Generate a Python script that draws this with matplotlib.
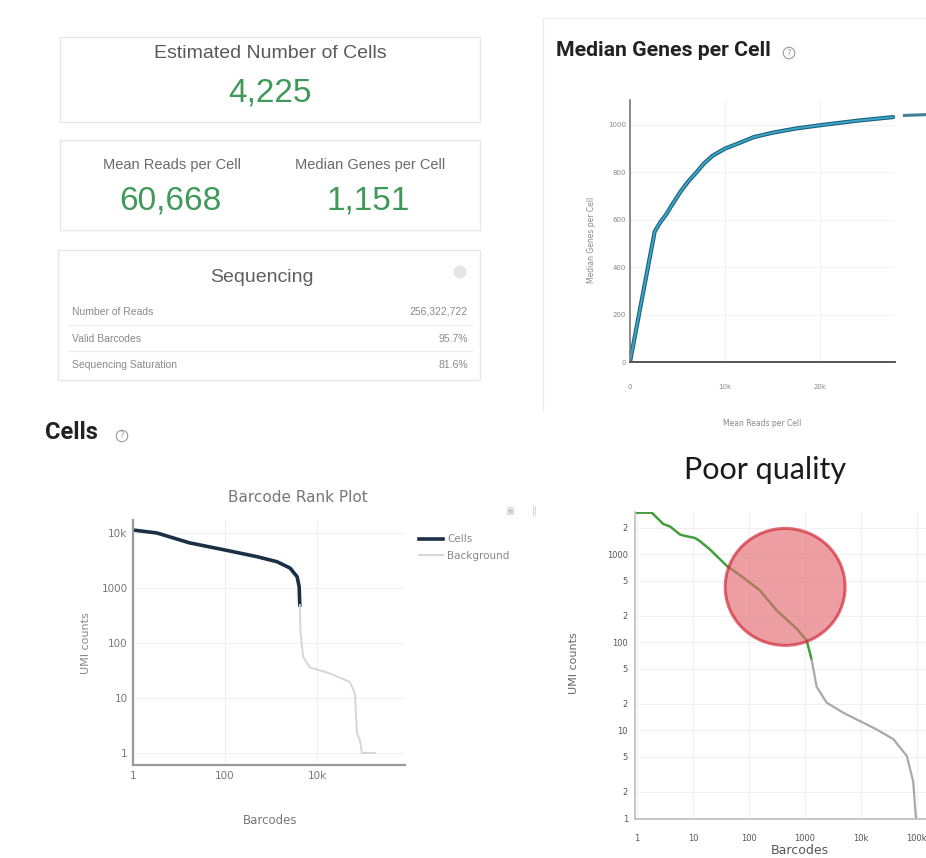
import matplotlib
matplotlib.use('Agg')
import matplotlib.pyplot as plt
from matplotlib.patches import Rectangle, Ellipse

W, H = 926, 858

# ---- summary cards ----
est_cells = '4,225'
mean_reads = '60,668'
median_genes = '1,151'
seq_labels = ['Number of Reads', 'Valid Barcodes', 'Sequencing Saturation']
seq_values = ['256,322,722', '95.7%', '81.6%']

# ---- sequencing saturation (median genes vs mean reads) ----
sat_reads = [0, 2600, 3200, 3860, 4300, 5300, 6100, 7000, 7800, 8700, 10000,
             11600, 13000, 15000, 17500, 20300, 24000, 27700]
sat_genes = [0, 550, 590, 625, 655, 717, 760, 800, 838, 870, 900,
             925, 948, 967, 985, 1000, 1018, 1033]
sat_ext_reads = [28900, 33000]
sat_ext_genes = [1040, 1046]
sat_yticks = [0, 200, 400, 600, 800, 1000]
sat_xticks = [0, 10000, 20000]
sat_xticklabels = ['0', '10k', '20k']

# ---- barcode rank plot (good sample) ----
cells_rank = [1, 3.3, 17, 100, 500, 1350, 2600, 3700, 4100, 4225]
cells_umi = [11300, 10000, 6600, 4900, 3700, 3000, 2300, 1600, 1050, 490]
bg_rank = [4225, 4400, 5000, 7000, 19000, 52000, 67000, 74000, 86000, 95000, 180000]
bg_umi = [490, 150, 56, 36, 28, 19.5, 12, 2.3, 1.7, 1, 1]
rank_yticks = [1, 10, 100, 1000, 10000]
rank_yticklabels = ['1', '10', '100', '1000', '10k']
rank_xticks = [1, 100, 10000]
rank_xticklabels = ['1', '100', '10k']

# ---- barcode rank plot (poor quality) ----
poor_cells_rank = [1, 1.83, 2.95, 3.9, 5.9, 7.7, 10.9, 13.3, 20, 40, 79, 158, 310, 710, 1070, 1320]
poor_cells_umi = [2950, 2950, 2190, 2050, 1660, 1590, 1520, 1400, 1130, 735, 540, 385, 230, 142, 105, 63]
poor_bg_rank = [1320, 1620, 2450, 4800, 19000, 38000, 66000, 86000, 96000]
poor_bg_umi = [63, 31, 20.5, 15.8, 10.2, 7.9, 5.1, 2.6, 1]
poor_yticks = [1, 2, 5, 10, 20, 50, 100, 200, 500, 1000, 2000]
poor_yticklabels = ['1', '2', '5', '10', '2', '5', '100', '2', '5', '1000', '2']
poor_xticks = [1, 10, 100, 1000, 10000, 100000]
poor_xticklabels = ['1', '10', '100', '1000', '10k', '100k']


def fx(px):
    return px / W


def fy(py):
    return 1 - py / H


def box(fig, x0, y0, x1, y1, color='#e8e8e8'):
    fig.add_artist(Rectangle((fx(x0), fy(y1)), fx(x1) - fx(x0), fy(y0) - fy(y1),
                             transform=fig.transFigure, fill=False, ec=color, lw=1.0))


def axes_px(fig, x0, y0, x1, y1):
    return fig.add_axes([fx(x0), fy(y1), fx(x1) - fx(x0), fy(y0) - fy(y1)])


def help_icon(fig, x, y, size=6):
    fig.text(fx(x), fy(y), '?', fontsize=size, color='#9a9a9a', ha='center', va='center',
             bbox=dict(boxstyle='circle,pad=0.15', fc='none', ec='#9a9a9a', lw=0.8))


def main():
    fig = plt.figure(figsize=(W / 100, H / 100), dpi=100)
    fig.patch.set_facecolor('white')

    card_font = 'Liberation Sans'
    green = '#3f9a5a'

    # =========== summary cards (top left) ===========
    box(fig, 60, 37, 480, 122)
    fig.text(fx(270), fy(54), 'Estimated Number of Cells', family=card_font, fontsize=14,
             color='#5a5a5a', ha='center', va='center')
    fig.text(fx(270), fy(93), est_cells, family=card_font, fontsize=24,
             color=green, ha='center', va='center')

    box(fig, 60, 140, 480, 230)
    fig.text(fx(172), fy(165), 'Mean Reads per Cell', family=card_font, fontsize=10.5,
             color='#6a6a6a', ha='center', va='center')
    fig.text(fx(170), fy(201), mean_reads, family=card_font, fontsize=24,
             color=green, ha='center', va='center')
    fig.text(fx(370), fy(165), 'Median Genes per Cell', family=card_font, fontsize=10.5,
             color='#6a6a6a', ha='center', va='center')
    fig.text(fx(368), fy(201), median_genes, family=card_font, fontsize=24,
             color=green, ha='center', va='center')

    box(fig, 58, 250, 480, 380)
    fig.text(fx(262), fy(277), 'Sequencing', family=card_font, fontsize=14,
             color='#606060', ha='center', va='center')
    fig.add_artist(Ellipse((fx(460), fy(272)), 13 / W, 13 / H, transform=fig.transFigure,
                           fc='#e4e4e4', ec='none'))
    row_y = [312, 339, 365]
    for lab, val, ry in zip(seq_labels, seq_values, row_y):
        fig.text(fx(72), fy(ry), lab, family=card_font, fontsize=7.5,
                 color='#8a8a8a', ha='left', va='center')
        fig.text(fx(468), fy(ry), val, family=card_font, fontsize=7.5,
                 color='#8a8a8a', ha='right', va='center')
    for ly in [325, 351]:
        fig.add_artist(plt.Line2D([fx(68), fx(472)], [fy(ly), fy(ly)],
                                  transform=fig.transFigure, color='#ececec', lw=1))

    # =========== median genes per cell (top right) ===========
    fig.add_artist(plt.Line2D([fx(543), fx(926)], [fy(18), fy(18)],
                              transform=fig.transFigure, color='#ececec', lw=1))
    fig.add_artist(plt.Line2D([fx(543), fx(543)], [fy(18), fy(410)],
                              transform=fig.transFigure, color='#ececec', lw=1))
    fig.text(fx(556), fy(50), 'Median Genes per Cell', family='Roboto', fontweight='bold',
             fontsize=15.3, color='#222222', ha='left', va='center')
    help_icon(fig, 789, 53)

    ax1 = axes_px(fig, 630, 100, 895, 362)
    ax1.plot(sat_reads, sat_genes, color='#1f5f7a', lw=3.0, solid_capstyle='round')
    ax1.plot(sat_reads, sat_genes, color='#3aa6c8', lw=1.4, solid_capstyle='round')
    ax1.plot(sat_ext_reads, sat_ext_genes, color='#3f7f99', lw=2.2, clip_on=False)
    ax1.set_xlim(0, 27900)
    ax1.set_ylim(0, 1105)
    ax1.set_xticks(sat_xticks)
    ax1.set_xticklabels(sat_xticklabels)
    ax1.set_yticks(sat_yticks)
    ax1.set_yticklabels([str(v) for v in sat_yticks])
    ax1.tick_params(length=0, labelsize=5, colors='#888888')
    ax1.tick_params(axis='x', pad=16)
    ax1.tick_params(axis='y', pad=3)
    ax1.grid(color='#f2f2f2', lw=0.8)
    for s in ['top', 'right']:
        ax1.spines[s].set_visible(False)
    ax1.spines['left'].set_color('#777777')
    ax1.spines['bottom'].set_color('#555555')
    ax1.spines['left'].set_linewidth(1.2)
    ax1.spines['bottom'].set_linewidth(1.4)
    fig.text(fx(592), fy(240), 'Median Genes per Cell', fontsize=5.5, color='#888888',
             rotation=90, ha='center', va='center')
    fig.text(fx(762), fy(423), 'Mean Reads per Cell', fontsize=5.5, color='#888888',
             ha='center', va='center')

    # =========== barcode rank plot (bottom left) ===========
    fig.text(fx(45), fy(432), 'Cells', family='Roboto', fontweight='bold',
             fontsize=17, color='#222222', ha='left', va='center')
    help_icon(fig, 122, 436)
    fig.text(fx(298), fy(497), 'Barcode Rank Plot', fontsize=11, color='#777777',
             ha='center', va='center')

    ax2 = axes_px(fig, 133, 520, 405, 765)
    ax2.set_xscale('log')
    ax2.set_yscale('log')
    ax2.plot(cells_rank, cells_umi, color='#1b2f45', lw=2.6, label='Cells')
    ax2.plot(bg_rank, bg_umi, color='#d6d6d6', lw=1.4, label='Background')
    ax2.set_xlim(1, 8.2e5)
    ax2.set_ylim(0.605, 17200)
    ax2.set_xticks(rank_xticks)
    ax2.set_xticklabels(rank_xticklabels)
    ax2.set_yticks(rank_yticks)
    ax2.set_yticklabels(rank_yticklabels)
    ax2.minorticks_off()
    ax2.tick_params(length=0, labelsize=7.5, colors='#777777', pad=4)
    ax2.grid(color='#f1f1f1', lw=0.8)
    for s in ['top', 'right']:
        ax2.spines[s].set_visible(False)
    for s in ['left', 'bottom']:
        ax2.spines[s].set_color('#999999')
        ax2.spines[s].set_linewidth(1.6)
    ax2.legend(loc='upper left', bbox_to_anchor=(fx(410), fy(525)),
               bbox_transform=fig.transFigure, frameon=False, fontsize=7.5,
               labelcolor='#888888', handlelength=2.3, handletextpad=0.4,
               labelspacing=0.6)
    fig.text(fx(86), fy(643), 'UMI counts', fontsize=8, color='#888888',
             rotation=90, ha='center', va='center')
    fig.text(fx(270), fy(820), 'Barcodes', fontsize=8.5, color='#777777',
             ha='center', va='center')
    fig.text(fx(510), fy(511), '\u25a3', fontsize=7, color='#cccccc', ha='center', va='center')
    fig.text(fx(534), fy(511), '\u2016', fontsize=7, color='#cccccc', ha='center', va='center')

    # =========== poor quality (bottom right) ===========
    fig.text(fx(765), fy(470), 'Poor quality', family='Lato', fontsize=22,
             color='#1a1a1a', ha='center', va='center')

    ax3 = axes_px(fig, 635, 512, 960, 819)
    ax3.set_xscale('log')
    ax3.set_yscale('log')
    ax3.plot(poor_cells_rank, poor_cells_umi, color='#3f9f3a', lw=1.8)
    ax3.plot(poor_bg_rank, poor_bg_umi, color='#a9a9a9', lw=1.6)
    ax3.set_xlim(0.92, 10 ** 5.77)
    ax3.set_ylim(0.98, 3000)
    ax3.set_xticks(poor_xticks)
    ax3.set_xticklabels(poor_xticklabels)
    ax3.set_yticks(poor_yticks)
    ax3.set_yticklabels(poor_yticklabels)
    ax3.minorticks_off()
    ax3.tick_params(length=0, labelsize=6, colors='#555555')
    ax3.tick_params(axis='x', pad=11)
    ax3.tick_params(axis='y', pad=5)
    ax3.grid(color='#f0f0f0', lw=0.8)
    for s in ['top', 'right']:
        ax3.spines[s].set_visible(False)
    for s in ['left', 'bottom']:
        ax3.spines[s].set_color('#bdbdbd')
        ax3.spines[s].set_linewidth(1.2)
    ax3.add_patch(Ellipse((0.462, 0.756), 0.369, 0.381, transform=ax3.transAxes,
                          fc='#e36b72', ec='#d0202e', lw=2.2, alpha=0.65, zorder=5))
    fig.text(fx(574), fy(663), 'UMI counts', fontsize=8, color='#666666',
             rotation=90, ha='center', va='center')
    fig.text(fx(800), fy(851), 'Barcodes', fontsize=9, color='#555555',
             ha='center', va='center')

    fig.savefig('out.png', dpi=100)
    plt.close(fig)


if __name__ == '__main__':
    main()
